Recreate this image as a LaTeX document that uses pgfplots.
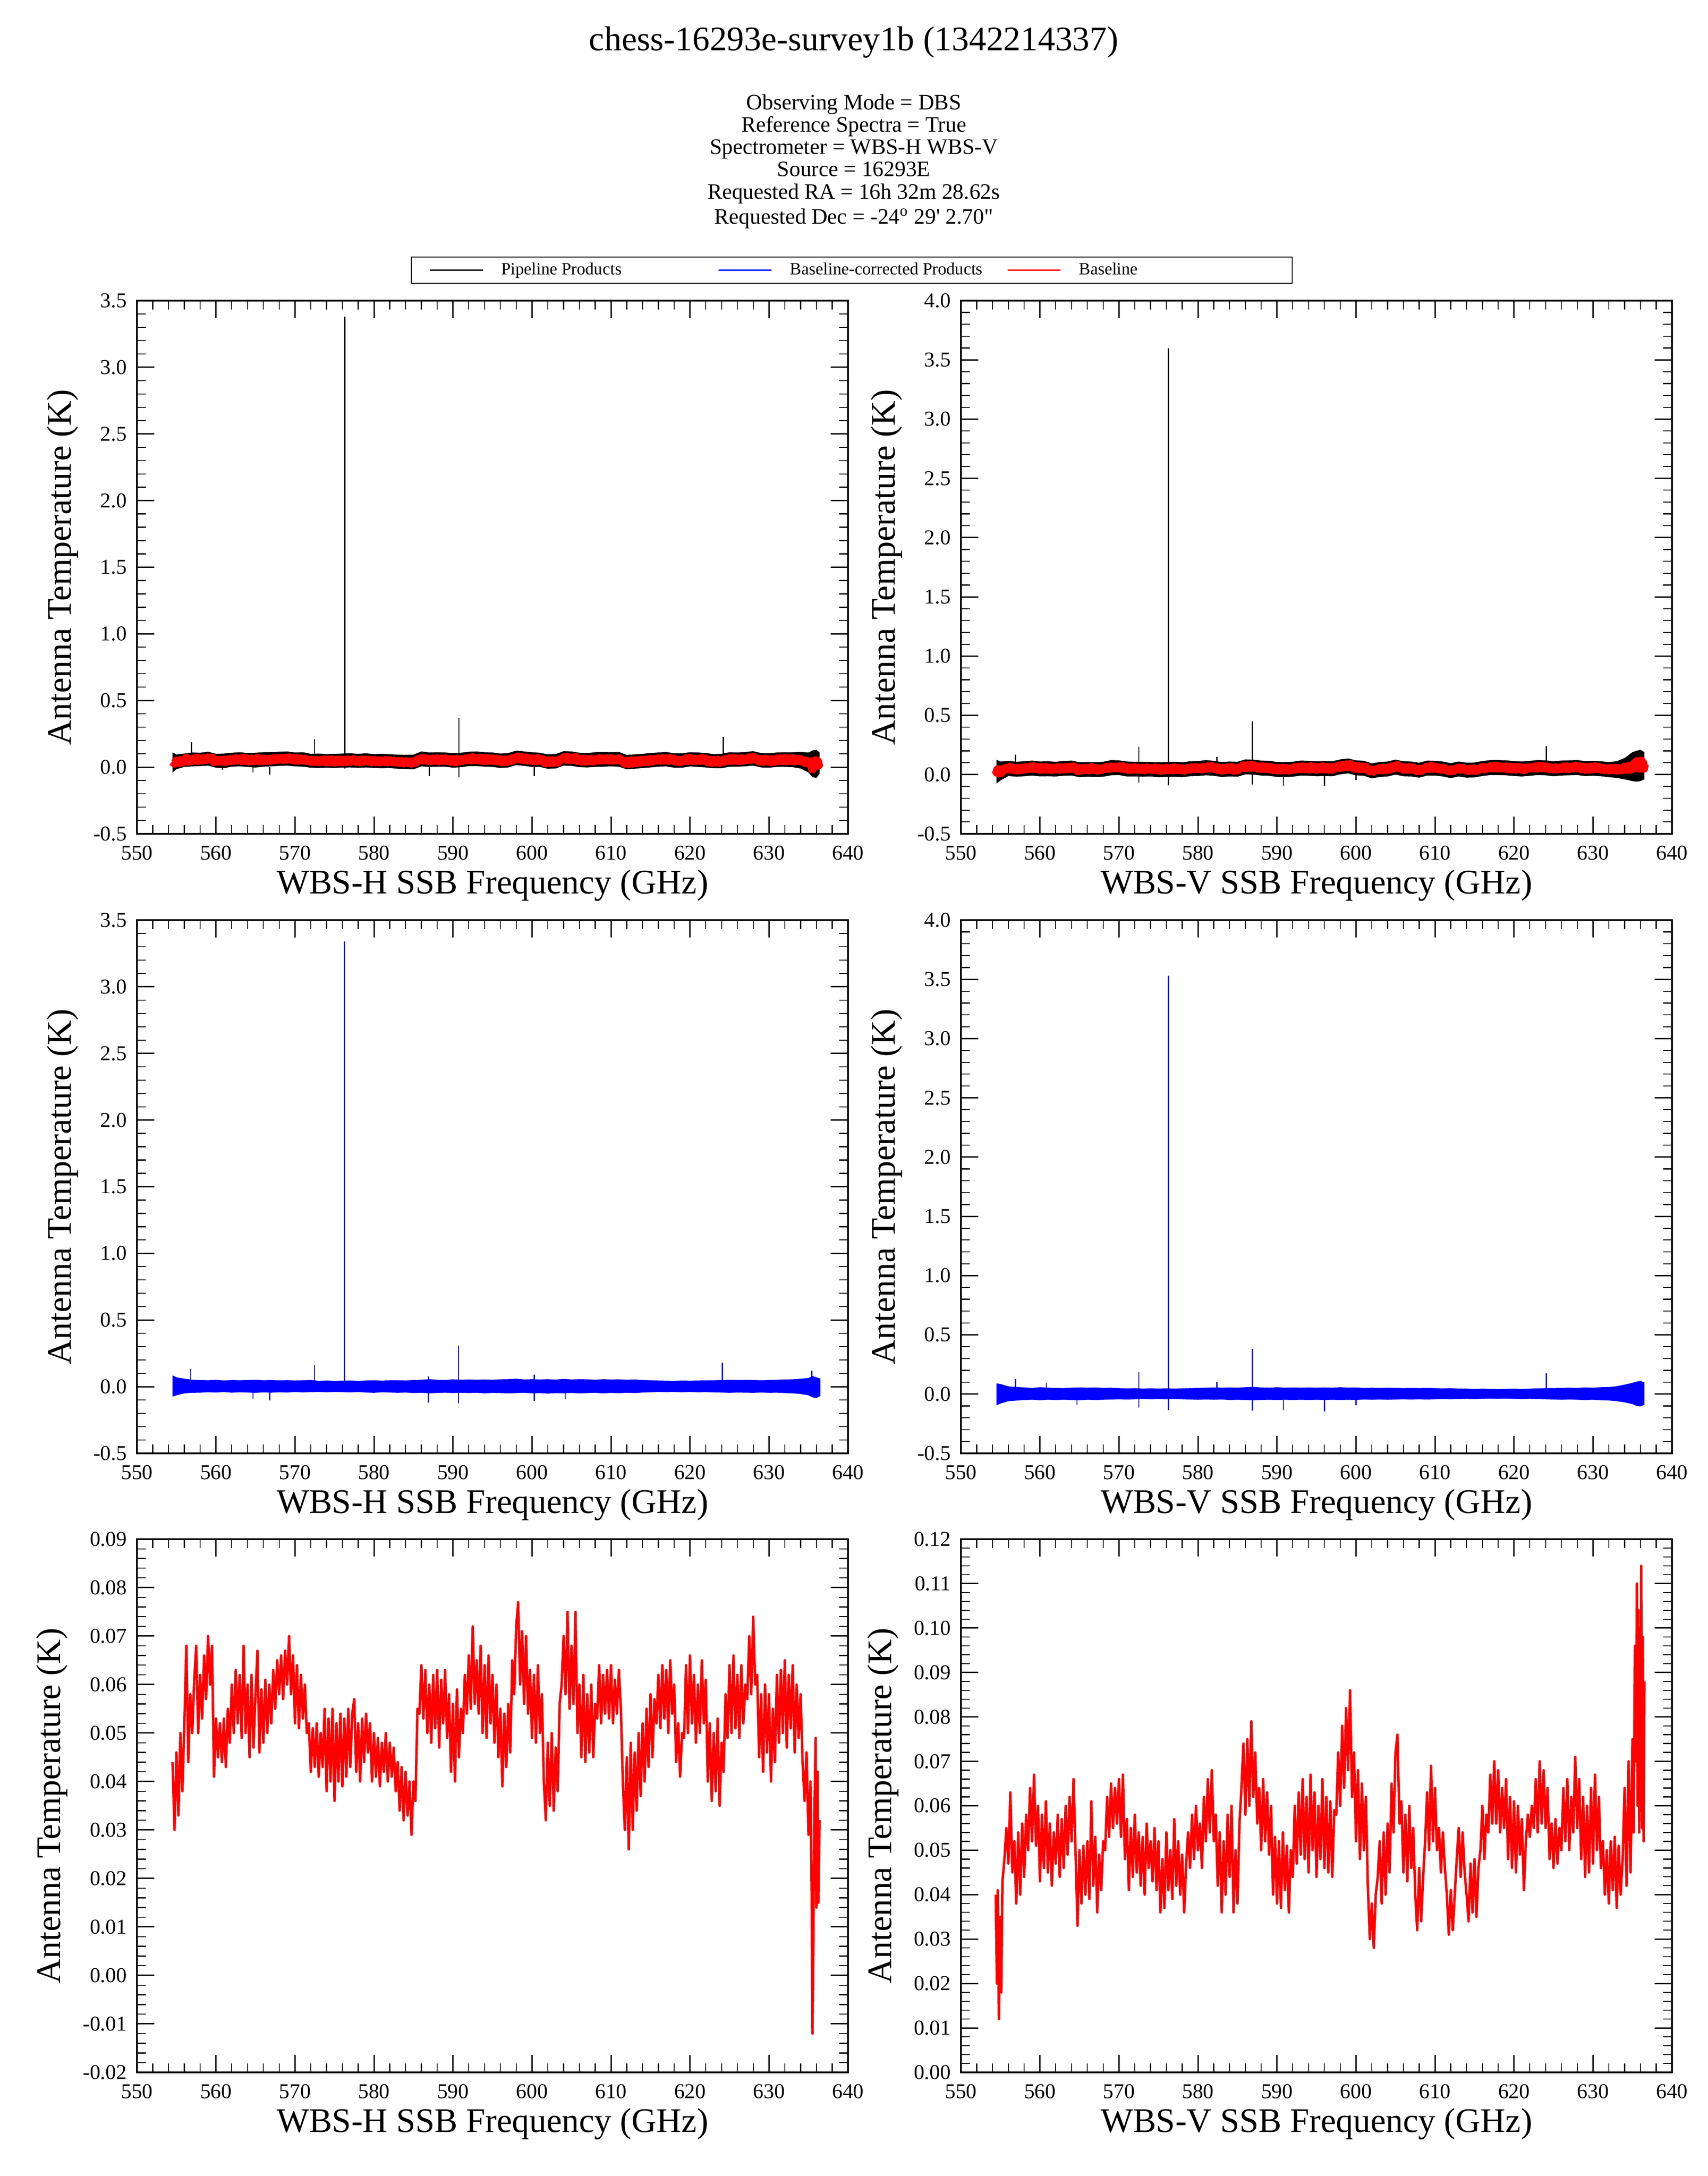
\documentclass[border=0pt]{standalone}
\usepackage{fontspec}
\setmainfont{Liberation Serif}
\newfontfamily\rawserif{Liberation Serif}
\usepackage{pgfplots}
\pgfplotsset{compat=1.18}
\usepgfplotslibrary{fillbetween}
\usepackage{pgfplotstable}

% ---------- baseline, WBS-H ----------
\pgfplotstableread{
x y
554.50 0.044
554.75 0.030
555.00 0.046
555.25 0.033
555.50 0.050
555.75 0.038
556.00 0.052
556.25 0.068
556.50 0.044
556.75 0.058
557.00 0.050
557.25 0.061
557.50 0.068
557.75 0.050
558.00 0.062
558.25 0.053
558.50 0.066
558.75 0.057
559.00 0.070
559.25 0.060
559.50 0.068
559.75 0.041
560.00 0.053
560.25 0.045
560.50 0.052
560.75 0.044
561.00 0.053
561.25 0.043
561.50 0.055
561.75 0.048
562.00 0.060
562.25 0.050
562.50 0.063
562.75 0.052
563.00 0.062
563.25 0.049
563.50 0.068
563.75 0.050
564.00 0.060
564.25 0.045
564.50 0.062
564.75 0.047
565.00 0.058
565.25 0.067
565.50 0.046
565.75 0.059
566.00 0.048
566.25 0.061
566.50 0.050
566.75 0.060
567.00 0.052
567.25 0.063
567.50 0.055
567.75 0.065
568.00 0.058
568.25 0.066
568.50 0.057
568.75 0.067
569.00 0.060
569.25 0.070
569.50 0.058
569.75 0.066
570.00 0.052
570.25 0.064
570.50 0.051
570.75 0.062
571.00 0.053
571.25 0.060
571.50 0.050
571.75 0.052
572.00 0.042
572.25 0.051
572.50 0.043
572.75 0.052
573.00 0.041
573.25 0.050
573.50 0.043
573.75 0.055
574.00 0.038
574.25 0.053
574.50 0.040
574.75 0.055
575.00 0.036
575.25 0.052
575.50 0.040
575.75 0.054
576.00 0.039
576.25 0.053
576.50 0.041
576.75 0.055
577.00 0.043
577.25 0.054
577.50 0.057
577.75 0.042
578.00 0.052
578.25 0.040
578.50 0.053
578.75 0.044
579.00 0.054
579.25 0.046
579.50 0.052
579.75 0.040
580.00 0.050
580.25 0.041
580.50 0.049
580.75 0.039
581.00 0.048
581.25 0.042
581.50 0.050
581.75 0.040
582.00 0.048
582.25 0.041
582.50 0.047
582.75 0.038
583.00 0.044
583.25 0.034
583.50 0.043
583.75 0.032
584.00 0.042
584.25 0.033
584.50 0.040
584.75 0.029
585.00 0.040
585.25 0.036
585.50 0.055
585.75 0.054
586.00 0.064
586.25 0.053
586.50 0.063
586.75 0.050
587.00 0.060
587.25 0.048
587.50 0.062
587.75 0.051
588.00 0.063
588.25 0.047
588.50 0.061
588.75 0.052
589.00 0.063
589.25 0.049
589.50 0.058
589.75 0.042
590.00 0.056
590.25 0.040
590.50 0.059
590.75 0.045
591.00 0.055
591.25 0.050
591.50 0.062
591.75 0.054
592.00 0.066
592.25 0.055
592.50 0.072
592.75 0.056
593.00 0.065
593.25 0.054
593.50 0.068
593.75 0.050
594.00 0.064
594.25 0.049
594.50 0.066
594.75 0.052
595.00 0.062
595.25 0.048
595.50 0.060
595.75 0.045
596.00 0.055
596.25 0.039
596.50 0.054
596.75 0.043
597.00 0.056
597.25 0.046
597.50 0.065
597.75 0.058
598.00 0.072
598.25 0.077
598.50 0.060
598.75 0.071
599.00 0.056
599.25 0.070
599.50 0.054
599.75 0.063
600.00 0.049
600.25 0.062
600.50 0.048
600.75 0.064
601.00 0.050
601.25 0.058
601.50 0.040
601.75 0.032
602.00 0.048
602.25 0.035
602.50 0.050
602.75 0.034
603.00 0.047
603.25 0.038
603.50 0.056
603.75 0.060
604.00 0.070
604.25 0.058
604.50 0.075
604.75 0.055
605.00 0.068
605.25 0.056
605.50 0.075
605.75 0.050
606.00 0.060
606.25 0.045
606.50 0.062
606.75 0.044
607.00 0.058
607.25 0.046
607.50 0.060
607.75 0.045
608.00 0.056
608.25 0.053
608.50 0.064
608.75 0.052
609.00 0.062
609.25 0.054
609.50 0.063
609.75 0.053
610.00 0.064
610.25 0.052
610.50 0.061
610.75 0.054
611.00 0.063
611.25 0.055
611.50 0.040
611.75 0.030
612.00 0.045
612.25 0.026
612.50 0.048
612.75 0.030
613.00 0.046
613.25 0.034
613.50 0.050
613.75 0.037
614.00 0.052
614.25 0.040
614.50 0.055
614.75 0.043
615.00 0.058
615.25 0.045
615.50 0.057
615.75 0.052
616.00 0.062
616.25 0.051
616.50 0.064
616.75 0.053
617.00 0.063
617.25 0.050
617.50 0.065
617.75 0.054
618.00 0.060
618.25 0.044
618.50 0.052
618.75 0.041
619.00 0.050
619.25 0.049
619.50 0.064
619.75 0.050
620.00 0.066
620.25 0.052
620.50 0.062
620.75 0.048
621.00 0.060
621.25 0.050
621.50 0.065
621.75 0.052
622.00 0.061
622.25 0.040
622.50 0.052
622.75 0.036
623.00 0.050
623.25 0.038
623.50 0.053
623.75 0.035
624.00 0.048
624.25 0.042
624.50 0.058
624.75 0.049
625.00 0.064
625.25 0.050
625.50 0.066
625.75 0.051
626.00 0.062
626.25 0.049
626.50 0.064
626.75 0.052
627.00 0.060
627.25 0.057
627.50 0.070
627.75 0.058
628.00 0.074
628.25 0.060
628.50 0.062
628.75 0.045
629.00 0.058
629.25 0.042
629.50 0.060
629.75 0.046
630.00 0.058
630.25 0.040
630.50 0.055
630.75 0.044
631.00 0.062
631.25 0.048
631.50 0.063
631.75 0.050
632.00 0.065
632.25 0.047
632.50 0.062
632.75 0.051
633.00 0.064
633.25 0.046
633.50 0.060
633.75 0.049
634.00 0.058
634.25 0.044
634.50 0.036
634.75 0.046
635.00 0.029
635.25 0.040
635.40 0.017
635.50 -0.012
635.60 0.005
635.75 0.034
635.90 0.049
636.00 0.014
636.15 0.042
636.25 0.015
636.40 0.032
}\BLH

% ---------- baseline, WBS-V ----------
\pgfplotstableread{
x y
554.40 0.040
554.55 0.020
554.65 0.041
554.80 0.012
554.95 0.035
555.10 0.018
555.25 0.043
555.50 0.048
555.75 0.055
556.00 0.047
556.25 0.063
556.50 0.045
556.75 0.052
557.00 0.038
557.25 0.054
557.50 0.040
557.75 0.056
558.00 0.044
558.25 0.058
558.50 0.050
558.75 0.064
559.00 0.052
559.25 0.067
559.50 0.051
559.75 0.060
560.00 0.043
560.25 0.058
560.50 0.046
560.75 0.061
561.00 0.045
561.25 0.056
561.50 0.042
561.75 0.054
562.00 0.047
562.25 0.058
562.50 0.044
562.75 0.057
563.00 0.046
563.25 0.060
563.50 0.049
563.75 0.062
564.00 0.052
564.25 0.066
564.50 0.050
564.75 0.033
565.00 0.050
565.25 0.038
565.50 0.051
565.75 0.040
566.00 0.052
566.25 0.039
566.50 0.061
566.75 0.042
567.00 0.053
567.25 0.036
567.50 0.049
567.75 0.041
568.00 0.052
568.25 0.050
568.50 0.062
568.75 0.053
569.00 0.065
569.25 0.055
569.50 0.064
569.75 0.056
570.00 0.066
570.25 0.053
570.50 0.067
570.75 0.048
571.00 0.057
571.25 0.041
571.50 0.055
571.75 0.044
572.00 0.058
572.25 0.045
572.50 0.054
572.75 0.042
573.00 0.053
573.25 0.040
573.50 0.056
573.75 0.046
574.00 0.052
574.25 0.043
574.50 0.055
574.75 0.041
575.00 0.052
575.25 0.036
575.50 0.048
575.75 0.037
576.00 0.054
576.25 0.041
576.50 0.050
576.75 0.039
577.00 0.057
577.25 0.042
577.50 0.052
577.75 0.040
578.00 0.049
578.25 0.036
578.50 0.047
578.75 0.054
579.00 0.046
579.25 0.058
579.50 0.048
579.75 0.060
580.00 0.050
580.25 0.056
580.50 0.046
580.75 0.062
581.00 0.052
581.25 0.066
581.50 0.054
581.75 0.068
582.00 0.052
582.25 0.058
582.50 0.042
582.75 0.054
583.00 0.036
583.25 0.052
583.50 0.040
583.75 0.058
584.00 0.044
584.25 0.060
584.50 0.036
584.75 0.050
585.00 0.038
585.25 0.056
585.50 0.064
585.75 0.074
586.00 0.058
586.25 0.075
586.50 0.060
586.75 0.079
587.00 0.062
587.25 0.072
587.50 0.056
587.75 0.064
588.00 0.050
588.25 0.066
588.50 0.052
588.75 0.063
589.00 0.049
589.25 0.060
589.50 0.040
589.75 0.053
590.00 0.038
590.25 0.052
590.50 0.037
590.75 0.054
591.00 0.041
591.25 0.051
591.50 0.036
591.75 0.050
592.00 0.044
592.25 0.060
592.50 0.047
592.75 0.063
593.00 0.049
593.25 0.066
593.50 0.048
593.75 0.062
594.00 0.045
594.25 0.067
594.50 0.050
594.75 0.063
595.00 0.044
595.25 0.060
595.50 0.048
595.75 0.066
596.00 0.046
596.25 0.062
596.50 0.045
596.75 0.061
597.00 0.044
597.25 0.059
597.50 0.058
597.75 0.072
598.00 0.060
598.25 0.078
598.50 0.064
598.75 0.082
599.00 0.068
599.25 0.086
599.50 0.062
599.75 0.072
600.00 0.052
600.25 0.068
600.50 0.048
600.75 0.065
601.00 0.050
601.25 0.062
601.50 0.042
601.75 0.030
602.00 0.038
602.25 0.028
602.50 0.040
602.75 0.044
603.00 0.052
603.25 0.038
603.50 0.054
603.75 0.040
604.00 0.056
604.25 0.045
604.50 0.065
604.75 0.054
605.00 0.072
605.25 0.076
605.50 0.056
605.75 0.061
606.00 0.045
606.25 0.058
606.50 0.043
606.75 0.060
607.00 0.046
607.25 0.055
607.50 0.040
607.75 0.032
608.00 0.046
608.25 0.034
608.50 0.044
608.75 0.052
609.00 0.063
609.25 0.050
609.50 0.069
609.75 0.052
610.00 0.064
610.25 0.050
610.50 0.055
610.75 0.045
611.00 0.054
611.25 0.046
611.50 0.040
611.75 0.031
612.00 0.041
612.25 0.032
612.50 0.040
612.75 0.048
613.00 0.055
613.25 0.044
613.50 0.054
613.75 0.045
614.00 0.040
614.25 0.034
614.50 0.047
614.75 0.036
615.00 0.048
615.25 0.035
615.50 0.046
615.75 0.050
616.00 0.060
616.25 0.048
616.50 0.058
616.75 0.054
617.00 0.067
617.25 0.056
617.50 0.070
617.75 0.056
618.00 0.068
618.25 0.054
618.50 0.064
618.75 0.055
619.00 0.066
619.25 0.048
619.50 0.062
619.75 0.046
620.00 0.061
620.25 0.045
620.50 0.060
620.75 0.049
621.00 0.057
621.25 0.041
621.50 0.052
621.75 0.058
622.00 0.053
622.25 0.060
622.50 0.055
622.75 0.066
623.00 0.054
623.25 0.070
623.50 0.056
623.75 0.068
624.00 0.055
624.25 0.064
624.50 0.048
624.75 0.056
625.00 0.046
625.25 0.057
625.50 0.047
625.75 0.055
626.00 0.050
626.25 0.064
626.50 0.052
626.75 0.066
627.00 0.050
627.25 0.062
627.50 0.054
627.75 0.071
628.00 0.055
628.25 0.066
628.50 0.048
628.75 0.062
629.00 0.044
629.25 0.060
629.50 0.045
629.75 0.064
630.00 0.047
630.25 0.067
630.50 0.050
630.75 0.062
631.00 0.046
631.25 0.052
631.50 0.040
631.75 0.050
632.00 0.038
632.25 0.052
632.50 0.041
632.75 0.053
633.00 0.037
633.25 0.051
633.50 0.040
633.75 0.048
634.00 0.064
634.25 0.042
634.50 0.070
634.75 0.045
635.00 0.075
635.15 0.054
635.30 0.096
635.45 0.070
635.55 0.110
635.65 0.060
635.75 0.104
635.85 0.054
635.95 0.100
636.05 0.060
636.10 0.114
636.20 0.055
636.30 0.098
636.40 0.052
636.50 0.088
}\BLV

% ---------- pipeline envelope, WBS-H ----------
\pgfplotstableread{
x lo hi
554.5 -0.040 0.110
555 -0.015 0.095
556 0.002 0.102
557 0.006 0.110
558 0.008 0.108
559 0.012 0.116
560 -0.004 0.100
561 -0.008 0.102
562 0.004 0.108
563 0.006 0.112
564 0.002 0.106
565 -0.003 0.108
566 0.004 0.112
567 0.006 0.113
568 0.010 0.116
569 0.012 0.118
570 0.006 0.110
571 0.004 0.112
572 -0.004 0.100
573 -0.006 0.102
574 -0.004 0.098
575 -0.006 0.100
576 -0.003 0.102
577 -0.002 0.104
578 -0.005 0.100
579 -0.002 0.104
580 -0.006 0.098
581 -0.008 0.100
582 -0.006 0.097
583 -0.012 0.094
584 -0.014 0.092
585 -0.016 0.094
586 0.006 0.118
587 0.002 0.110
588 0.004 0.112
589 0.004 0.110
590 -0.004 0.106
591 0.000 0.108
592 0.008 0.116
593 0.008 0.118
594 0.004 0.112
595 0.002 0.110
596 -0.006 0.102
597 -0.002 0.106
598 0.016 0.124
599 0.010 0.118
600 0.002 0.112
601 0.002 0.108
602 -0.012 0.096
603 -0.010 0.098
604 0.012 0.120
605 0.010 0.118
606 0.000 0.108
607 -0.002 0.106
608 0.002 0.112
609 0.004 0.114
610 0.006 0.112
611 0.004 0.114
612 -0.016 0.092
613 -0.012 0.096
614 -0.006 0.100
615 -0.002 0.106
616 0.004 0.110
617 0.006 0.114
618 -0.004 0.104
619 -0.004 0.104
620 0.006 0.112
621 0.002 0.110
622 -0.002 0.106
623 -0.008 0.098
624 -0.008 0.100
625 0.004 0.112
626 0.004 0.110
627 0.006 0.114
628 0.012 0.120
629 -0.002 0.106
630 -0.004 0.104
631 0.002 0.110
632 0.002 0.112
633 0.000 0.112
634 -0.010 0.114
635 -0.040 0.110
635.5 -0.075 0.125
636 -0.080 0.130
636.4 -0.050 0.110
}\PipeH

% ---------- pipeline envelope, WBS-V ----------
\pgfplotstableread{
x lo hi
554.5 -0.075 0.125
555 -0.050 0.110
556 -0.012 0.115
557 -0.018 0.108
558 -0.014 0.112
559 -0.008 0.118
560 -0.015 0.110
561 -0.014 0.112
562 -0.016 0.108
563 -0.010 0.114
564 -0.008 0.118
565 -0.022 0.104
566 -0.018 0.106
567 -0.020 0.104
568 -0.018 0.108
569 -0.006 0.122
570 -0.004 0.120
571 -0.016 0.110
572 -0.016 0.108
573 -0.018 0.108
574 -0.016 0.106
575 -0.022 0.104
576 -0.020 0.106
577 -0.018 0.108
578 -0.022 0.104
579 -0.014 0.112
580 -0.012 0.114
581 -0.006 0.122
582 -0.010 0.116
583 -0.020 0.106
584 -0.016 0.110
585 -0.018 0.108
586 0.002 0.128
587 0.000 0.126
588 -0.008 0.118
589 -0.010 0.116
590 -0.020 0.106
591 -0.020 0.106
592 -0.018 0.108
593 -0.008 0.118
594 -0.010 0.116
595 -0.014 0.112
596 -0.012 0.114
597 -0.014 0.112
598 0.002 0.128
599 0.010 0.136
600 -0.006 0.120
601 -0.010 0.116
602 -0.032 0.094
603 -0.020 0.106
604 -0.016 0.110
605 0.000 0.126
606 -0.014 0.112
607 -0.016 0.110
608 -0.026 0.100
609 -0.008 0.118
610 -0.008 0.116
611 -0.016 0.110
612 -0.030 0.096
613 -0.016 0.110
614 -0.026 0.100
615 -0.024 0.102
616 -0.012 0.114
617 -0.004 0.122
618 -0.004 0.122
619 -0.006 0.120
620 -0.012 0.114
621 -0.016 0.110
622 -0.010 0.116
623 -0.004 0.122
624 -0.006 0.120
625 -0.014 0.112
626 -0.008 0.118
627 -0.006 0.120
628 -0.004 0.122
629 -0.012 0.114
630 -0.010 0.116
631 -0.014 0.112
632 -0.022 0.106
633 -0.028 0.112
634 -0.040 0.140
635 -0.055 0.190
635.5 -0.060 0.200
636 -0.055 0.210
636.5 -0.040 0.190
}\PipeV

% ---------- baseline-corrected envelope, WBS-H ----------
\pgfplotstableread{
x lo hi
554.5 -0.075 0.085
555 -0.065 0.070
556 -0.050 0.060
557 -0.046 0.052
558 -0.045 0.050
559 -0.042 0.048
560 -0.044 0.052
561 -0.040 0.046
562 -0.045 0.050
563 -0.042 0.048
564 -0.044 0.050
565 -0.046 0.052
566 -0.043 0.048
567 -0.045 0.050
568 -0.042 0.047
569 -0.044 0.049
570 -0.040 0.046
571 -0.043 0.048
572 -0.041 0.050
573 -0.040 0.044
574 -0.042 0.046
575 -0.040 0.044
576 -0.041 0.045
577 -0.043 0.046
578 -0.040 0.044
579 -0.044 0.046
580 -0.046 0.048
581 -0.042 0.045
582 -0.044 0.048
583 -0.046 0.048
584 -0.044 0.046
585 -0.048 0.050
586 -0.046 0.052
587 -0.050 0.056
588 -0.047 0.052
589 -0.045 0.050
590 -0.048 0.055
591 -0.046 0.052
592 -0.048 0.054
593 -0.046 0.052
594 -0.050 0.054
595 -0.047 0.052
596 -0.048 0.055
597 -0.050 0.056
598 -0.048 0.060
599 -0.046 0.054
600 -0.050 0.056
601 -0.048 0.054
602 -0.052 0.056
603 -0.048 0.053
604 -0.050 0.058
605 -0.047 0.054
606 -0.050 0.056
607 -0.048 0.055
608 -0.046 0.052
609 -0.050 0.056
610 -0.047 0.054
611 -0.049 0.055
612 -0.046 0.052
613 -0.048 0.054
614 -0.044 0.050
615 -0.042 0.048
616 -0.040 0.046
617 -0.041 0.045
618 -0.040 0.044
619 -0.042 0.046
620 -0.040 0.045
621 -0.042 0.046
622 -0.041 0.047
623 -0.043 0.048
624 -0.044 0.050
625 -0.046 0.052
626 -0.044 0.050
627 -0.045 0.052
628 -0.046 0.050
629 -0.044 0.048
630 -0.046 0.050
631 -0.045 0.052
632 -0.048 0.054
633 -0.050 0.055
634 -0.055 0.060
635 -0.065 0.065
635.5 -0.080 0.080
636 -0.085 0.070
636.5 -0.070 0.060
}\CorrH

% ---------- baseline-corrected envelope, WBS-V ----------
\pgfplotstableread{
x lo hi
554.5 -0.095 0.090
555 -0.080 0.085
556 -0.060 0.065
557 -0.055 0.060
558 -0.050 0.056
559 -0.048 0.052
560 -0.052 0.058
561 -0.048 0.054
562 -0.050 0.052
563 -0.048 0.050
564 -0.050 0.054
565 -0.052 0.056
566 -0.048 0.054
567 -0.050 0.056
568 -0.048 0.052
569 -0.046 0.054
570 -0.044 0.050
571 -0.046 0.048
572 -0.044 0.050
573 -0.042 0.046
574 -0.044 0.048
575 -0.042 0.046
576 -0.044 0.048
577 -0.042 0.046
578 -0.044 0.048
579 -0.046 0.050
580 -0.048 0.052
581 -0.046 0.054
582 -0.048 0.056
583 -0.046 0.054
584 -0.050 0.056
585 -0.048 0.054
586 -0.050 0.058
587 -0.052 0.060
588 -0.050 0.056
589 -0.048 0.054
590 -0.050 0.058
591 -0.048 0.054
592 -0.050 0.056
593 -0.048 0.054
594 -0.050 0.056
595 -0.048 0.054
596 -0.050 0.056
597 -0.048 0.054
598 -0.050 0.058
599 -0.048 0.055
600 -0.050 0.056
601 -0.046 0.052
602 -0.048 0.054
603 -0.046 0.052
604 -0.048 0.054
605 -0.046 0.052
606 -0.044 0.050
607 -0.046 0.052
608 -0.044 0.050
609 -0.046 0.052
610 -0.044 0.050
611 -0.042 0.048
612 -0.044 0.050
613 -0.042 0.046
614 -0.040 0.046
615 -0.042 0.044
616 -0.040 0.046
617 -0.038 0.044
618 -0.040 0.042
619 -0.038 0.044
620 -0.040 0.046
621 -0.042 0.044
622 -0.040 0.046
623 -0.042 0.048
624 -0.044 0.050
625 -0.046 0.050
626 -0.048 0.052
627 -0.046 0.054
628 -0.048 0.052
629 -0.050 0.056
630 -0.048 0.054
631 -0.052 0.058
632 -0.054 0.060
633 -0.060 0.066
634 -0.070 0.080
635 -0.085 0.095
635.5 -0.100 0.105
636 -0.105 0.110
636.5 -0.090 0.100
}\CorrV

% ---------- spectral lines (spikes) ----------
\pgfplotstableread{
x y
556.9 0.04
556.9 0.188
556.9 nan
572.45 0.03
572.45 0.21
572.45 nan
576.3 -0.01
576.3 3.38
576.3 nan
590.75 -0.075
590.75 0.367
590.75 nan
624.2 0.04
624.2 0.226
624.2 nan
560.8 0.02
560.8 -0.024
560.8 nan
564.7 0.0
564.7 -0.04
564.7 nan
566.8 0.0
566.8 -0.056
566.8 nan
587.0 0.0
587.0 -0.065
587.0 nan
600.3 0.0
600.3 -0.065
}\SpkPH

\pgfplotstableread{
x y
556.9 0.05
556.9 0.168
556.9 nan
572.5 -0.07
572.5 0.235
572.5 nan
576.25 -0.09
576.25 3.60
576.25 nan
582.4 0.05
582.4 0.15
582.4 nan
586.9 -0.083
586.9 0.45
586.9 nan
590.8 0.0
590.8 -0.094
590.8 nan
596.0 0.0
596.0 -0.094
596.0 nan
600.0 0.0
600.0 -0.046
600.0 nan
624.1 0.05
624.1 0.239
}\SpkPV

\pgfplotstableread{
x y
556.8 0.0
556.8 0.133
556.8 nan
572.45 0.0
572.45 0.163
572.45 nan
576.25 -0.04
576.25 3.34
576.25 nan
590.7 -0.128
590.7 0.308
590.7 nan
624.1 0.0
624.1 0.181
624.1 nan
635.4 0.0
635.4 0.12
635.4 nan
600.3 -0.108
600.3 0.09
600.3 nan
564.7 0.0
564.7 -0.091
564.7 nan
566.8 0.0
566.8 -0.103
566.8 nan
586.9 -0.119
586.9 0.078
586.9 nan
604.2 0.0
604.2 -0.094
}\SpkCH

\pgfplotstableread{
x y
556.9 0.0
556.9 0.128
556.9 nan
560.8 0.0
560.8 0.093
560.8 nan
572.5 -0.112
572.5 0.187
572.5 nan
576.25 -0.137
576.25 3.53
576.25 nan
582.4 0.0
582.4 0.106
582.4 nan
586.9 -0.14
586.9 0.383
586.9 nan
590.8 0.0
590.8 -0.137
590.8 nan
596.0 0.0
596.0 -0.149
596.0 nan
600.0 0.0
600.0 -0.096
600.0 nan
624.1 0.0
624.1 0.174
624.1 nan
564.7 0.0
564.7 -0.09
}\SpkCV

\pgfplotsset{
  panel/.style={
    width=319.8pt, height=239.8pt, scale only axis,
    xmin=550, xmax=640,
    xtick={550,560,570,580,590,600,610,620,630,640},
    xticklabels={550,560,570,580,590,600,610,620,630,640},
    scaled ticks=false,
    minor x tick num=4, minor y tick num=4,
    tick align=inside, tick pos=both,
    major tick length=7.8pt, minor tick length=4pt,
    axis line style={line width=0.8pt},
    major tick style={line width=0.6pt, black},
    minor tick style={line width=0.45pt, black},
    tick label style={font=\fontsize{9.5}{11}\selectfont},
    xticklabel style={yshift=-1.8pt},
    yticklabel style={xshift=-1pt},
    label style={font=\fontsize{15.5}{18}\selectfont},
    xlabel style={at={(axis description cs:0.5,0)}, anchor=base, yshift=-27pt},
    ylabel={Antenna Temperature (K)},
    unbounded coords=jump,
  },
  bigH/.style={ymin=-0.5, ymax=3.5,
    ytick={-0.5,0,0.5,1,1.5,2,2.5,3,3.5},
    yticklabels={-0.5,0.0,0.5,1.0,1.5,2.0,2.5,3.0,3.5}},
  bigV/.style={ymin=-0.5, ymax=4,
    ytick={-0.5,0,0.5,1,1.5,2,2.5,3,3.5,4},
    yticklabels={-0.5,0.0,0.5,1.0,1.5,2.0,2.5,3.0,3.5,4.0}},
}

\begin{document}
\begin{tikzpicture}

% ---------------- top left ----------------
\begin{axis}[panel, bigH, at={(61.6pt,603.6pt)}, anchor=south west,
  xlabel={WBS-H SSB Frequency (GHz)},
  legend style={at={(0.3852,1.0826)}, anchor=north west, draw=black,
    line width=0.4pt, fill=white, font=\fontsize{7.7}{9}\selectfont,
    legend columns=3, inner xsep=8pt, inner ysep=2.35pt,
    nodes={inner sep=0pt, text height=5.5pt, text depth=1.6pt},
    /tikz/every odd column/.append style={column sep=8.0pt},
    /tikz/every even column/.append style={column sep=9.4pt}},
  legend cell align=left,
  legend image code/.code={\draw[#1] (0pt,0pt) -- (23.8pt,0pt);}]
\addplot[draw=none, name path=phlo, forget plot] table[x=x,y=lo]{\PipeH};
\addplot[draw=none, name path=phhi, forget plot] table[x=x,y=hi]{\PipeH};
\addplot[black, forget plot] fill between[of=phlo and phhi];
\addplot[black, line width=0.5pt, forget plot] table {\SpkPH};
\addplot[red, line width=4pt, line join=round, forget plot] table {\BLH};
\addlegendimage{black, line width=0.7pt}
\addlegendentry{\makebox[88pt][l]{Pipeline Products}}
\addlegendimage{blue, line width=0.7pt}
\addlegendentry{\makebox[88pt][l]{Baseline-corrected Products}}
\addlegendimage{red, line width=0.7pt}
\addlegendentry{\makebox[88pt][l]{Baseline}}
\end{axis}

% ---------------- top right ----------------
\begin{axis}[panel, bigV, at={(432.2pt,603.6pt)}, anchor=south west,
  xlabel={WBS-V SSB Frequency (GHz)}]
\addplot[draw=none, name path=pvlo, forget plot] table[x=x,y=lo]{\PipeV};
\addplot[draw=none, name path=pvhi, forget plot] table[x=x,y=hi]{\PipeV};
\addplot[black, forget plot] fill between[of=pvlo and pvhi];
\addplot[black, line width=0.5pt, forget plot] table {\SpkPV};
\addplot[red, line width=4pt, line join=round, forget plot] table {\BLV};
\end{axis}

% ---------------- middle left ----------------
\begin{axis}[panel, bigH, at={(61.6pt,325.0pt)}, anchor=south west,
  xlabel={WBS-H SSB Frequency (GHz)}]
\addplot[draw=none, name path=chlo, forget plot] table[x=x,y=lo]{\CorrH};
\addplot[draw=none, name path=chhi, forget plot] table[x=x,y=hi]{\CorrH};
\addplot[blue, forget plot] fill between[of=chlo and chhi];
\addplot[blue, line width=0.5pt, forget plot] table {\SpkCH};
\end{axis}

% ---------------- middle right ----------------
\begin{axis}[panel, bigV, at={(432.2pt,325.0pt)}, anchor=south west,
  xlabel={WBS-V SSB Frequency (GHz)}]
\addplot[draw=none, name path=cvlo, forget plot] table[x=x,y=lo]{\CorrV};
\addplot[draw=none, name path=cvhi, forget plot] table[x=x,y=hi]{\CorrV};
\addplot[blue, forget plot] fill between[of=cvlo and cvhi];
\addplot[blue, line width=0.5pt, forget plot] table {\SpkCV};
\end{axis}

% ---------------- bottom left ----------------
\begin{axis}[panel, at={(61.6pt,46.6pt)}, anchor=south west,
  xlabel={WBS-H SSB Frequency (GHz)},
  ymin=-0.02, ymax=0.09,
  ytick={-0.02,-0.01,0,0.01,0.02,0.03,0.04,0.05,0.06,0.07,0.08,0.09},
  yticklabels={-0.02,-0.01,0.00,0.01,0.02,0.03,0.04,0.05,0.06,0.07,0.08,0.09}]
\addplot[red, line width=1.1pt, line join=round, forget plot] table {\BLH};
\end{axis}

% ---------------- bottom right ----------------
\begin{axis}[panel, at={(432.2pt,46.6pt)}, anchor=south west,
  xlabel={WBS-V SSB Frequency (GHz)},
  ymin=0, ymax=0.12,
  ytick={0,0.01,0.02,0.03,0.04,0.05,0.06,0.07,0.08,0.09,0.10,0.11,0.12},
  yticklabels={0.00,0.01,0.02,0.03,0.04,0.05,0.06,0.07,0.08,0.09,0.10,0.11,0.12}]
\addplot[red, line width=1.1pt, line join=round, forget plot] table {\BLV};
\end{axis}

% ---------------- titles ----------------
\node[anchor=base, font=\fontsize{15.5}{18}\selectfont] at (384pt,955.8pt) {chess-16293e-survey1b (1342214337)};
\begin{scope}[every node/.style={anchor=base, font=\fontsize{9.9}{11}\selectfont, inner sep=0pt}]
\node at (384pt,929.28pt) {Observing Mode = DBS};
\node at (384pt,919.2pt) {Reference Spectra = True};
\node at (384pt,909.2pt) {Spectrometer = WBS-H WBS-V};
\node at (384pt,899.28pt) {Source = 16293E};
\node at (384pt,889.08pt) {Requested RA = 16h 32m 28.62s};
\node at (384pt,877.9pt) {\rawserif Requested Dec = -24\textsuperscript{o} 29' 2.70"};
\end{scope}

\pgfresetboundingbox
\path (0,0) rectangle (768pt,978.6pt);
\end{tikzpicture}
\end{document}
